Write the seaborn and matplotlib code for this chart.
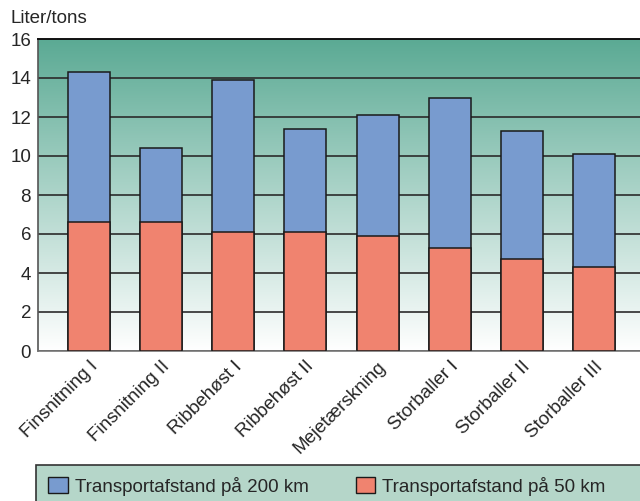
import matplotlib
matplotlib.use("Agg")
import matplotlib.pyplot as plt
import seaborn as sns
import numpy as np
from matplotlib.colors import LinearSegmentedColormap
from matplotlib.patches import Rectangle, Patch

# data
categories = ["Finsnitning I", "Finsnitning II", "Ribbehøst I", "Ribbehøst II",
              "Mejetærskning", "Storballer I", "Storballer II", "Storballer III"]
km50 = [6.6, 6.6, 6.1, 6.1, 5.9, 5.3, 4.7, 4.3]
km200_total = [14.3, 10.4, 13.9, 11.4, 12.1, 13.0, 11.3, 10.1]
yticks = [0, 2, 4, 6, 8, 10, 12, 14, 16]

blue = "#789BCF"
red = "#F0836F"
edge = "#1a1a1a"
fs = 13.5

sns.set_style("white")
plt.rcParams["font.family"] = ["Liberation Sans", "DejaVu Sans"]
plt.rcParams["font.size"] = fs

fig = plt.figure(figsize=(6.4, 5.01), dpi=100)
ax = fig.add_axes([38 / 640, 1 - 351 / 501, 1 - 38 / 640, (351 - 39) / 501])

# gradient background
cmap = LinearSegmentedColormap.from_list("bg", ["#FFFFFF", "#5BAA94"])
grad = np.linspace(0, 1, 256).reshape(-1, 1)
ax.imshow(grad, cmap=cmap, aspect="auto", extent=[0, 1, 0, 1],
          transform=ax.transAxes, origin="lower", zorder=0)

sns.barplot(x=categories, y=km200_total, color=blue, saturation=1, width=0.583,
            edgecolor=edge, linewidth=1.1, ax=ax, zorder=2)
sns.barplot(x=categories, y=km50, color=red, saturation=1, width=0.583,
            edgecolor=edge, linewidth=1.1, ax=ax, zorder=3)

ax.set_ylim(0, 16)
ax.set_xlim(-0.708, 7.639)
ax.set_yticks(yticks)
ax.yaxis.grid(True, color="#2b2b2b", linewidth=1.2)
ax.set_axisbelow(True)
for gl in ax.get_ygridlines():
    gl.set_zorder(1)
ax.set_xlabel("")
ax.set_ylabel("")
ax.tick_params(axis="both", length=0, labelsize=fs)
ax.tick_params(axis="y", pad=5)
ax.tick_params(axis="x", pad=5)
plt.setp(ax.get_xticklabels(), rotation=45, ha="right", va="top", rotation_mode="anchor")

ax.spines["top"].set_color("#111111")
ax.spines["top"].set_linewidth(1.4)
ax.spines["left"].set_color("#555555")
ax.spines["bottom"].set_color("#777777")
ax.spines["right"].set_visible(False)
for s in ["left", "bottom"]:
    ax.spines[s].set_linewidth(1.2)

fig.text(11 / 640, 1 - 23 / 501, "Liter/tons", fontsize=fs, va="baseline", ha="left")

# legend box
fig.patches.append(Rectangle((36 / 640, -0.01), 1, 0.01 + (501 - 465) / 501,
                             transform=fig.transFigure, facecolor="#B5D6C9",
                             edgecolor="#333333", linewidth=1.2, zorder=0))
handles = [Patch(facecolor=blue, edgecolor=edge, label="Transportafstand på 200 km"),
           Patch(facecolor=red, edgecolor=edge, label="Transportafstand på 50 km")]
fig.legend(handles=handles, loc="center left", bbox_to_anchor=(48 / 640, 1 - 486 / 501),
           ncol=2, frameon=False, borderpad=0, borderaxespad=0, fontsize=fs,
           handlelength=1.05, handleheight=1.0, handletextpad=0.38, columnspacing=2.5)

fig.savefig("out.png", dpi=100)
